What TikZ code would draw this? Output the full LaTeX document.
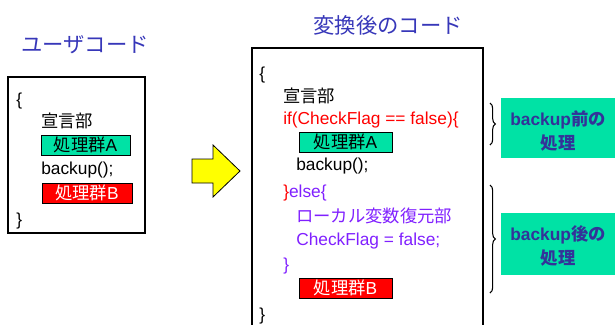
\documentclass[tikz,border=0pt]{standalone}
\usepackage{fontspec}
\setmainfont{Liberation Sans}
\newfontfamily\jp{Noto Sans CJK JP}
\usetikzlibrary{decorations.pathreplacing}
\definecolor{ttl}{RGB}{55,55,185}
\definecolor{grn}{RGB}{0,226,165}
\definecolor{lbl}{RGB}{51,51,153}
\definecolor{prp}{RGB}{128,32,255}
\definecolor{ylw}{RGB}{255,255,0}
\tikzset{
  title/.style={inner sep=0, text=ttl, font=\fontsize{16}{18}\selectfont\jp},
  code/.style={anchor=west, inner sep=0, yshift=-2.5pt, text height=0.75em, text depth=0.2em, font=\fontsize{13}{15}\selectfont},
  frame/.style={draw=black, line width=1pt},
  grpA/.style={draw=black, line width=0.6pt, fill=grn, minimum height=15pt, inner sep=0, font=\fontsize{13}{15}\selectfont},
  grpB/.style={draw=black, line width=0.6pt, fill=red, text=white, minimum height=15pt, inner sep=0, font=\fontsize{13}{15}\selectfont},
  labelbox/.style={fill=grn, inner sep=0, minimum width=85.5pt},
  labeltext/.style={text=lbl, align=center, inner sep=0, font=\fontsize{13}{18}\selectfont\bfseries},
  brc/.style={decorate, decoration={brace, amplitude=4pt}, line width=0.8pt},
}
\begin{document}
\begin{tikzpicture}[x=0.75pt,y=-0.75pt]
\useasboundingbox (0,0) rectangle (615,325);
% titles
\node[title] (t1) at (85,45) {ユーザコード};
\node[title] (t2) at (388,25) {変換後のコード};
% left box
\node[frame, minimum width=102.75pt, minimum height=117pt, inner sep=0] (lbox) at (76.5,155) {};
\node[code] (l1) at (16,98) {\{};
\node[code] (l2) at (41,120) {\jp 宣言部};
\node[grpA, minimum width=66.75pt] (lA) at (85.5,145) {{\jp 処理群}A};
\node[code] (l3) at (41,167) {backup();};
\node[grpB, minimum width=67.5pt] (lB) at (87,193) {{\jp 処理群}B};
\node[code] (l4) at (16,218) {\}};
% arrow
\draw[fill=ylw, draw=black, line width=0.6pt] (192,159) -- (213,159) -- (213,145) -- (240,171) -- (213,197) -- (213,183) -- (192,183) -- cycle;
% right box
\coordinate (rb1) at (252,327);
\coordinate (rb2) at (252,48);
\coordinate (rb3) at (483,48);
\coordinate (rb4) at (483,327);
\draw[frame] (rb1) -- (rb2) -- (rb3) -- (rb4);
\node[code] (r1) at (259,72) {\{};
\node[code] (r2) at (283,95) {\jp 宣言部};
\node[code, text=red] (r3) at (283,117) {if(CheckFlag == false)\{};
\node[grpA, minimum width=69.75pt] (rA) at (345.5,142) {{\jp 処理群}A};
\node[code] (r4) at (296,163) {backup();};
\node[code] (r5) at (283,190) {\textcolor{red}{\}}\textcolor{prp}{else\{}};
\node[code, text=prp] (r6) at (296,215) {\jp ローカル変数復元部};
\node[code, text=prp] (r7) at (296,238) {CheckFlag = false;};
\node[code, text=prp] (r8) at (283,263) {\}};
\node[grpB, minimum width=69.75pt] (rB) at (345.5,288) {{\jp 処理群}B};
\node[code] (r9) at (259,313) {\}};
% braces
\coordinate (b1t) at (490,103);
\coordinate (b1b) at (490,145);
\coordinate (b2t) at (490,185);
\coordinate (b2b) at (490,293);
\draw[brc] (b1t) -- (b1b);
\draw[brc] (b2t) -- (b2b);
% labels
\node[labelbox, minimum height=45pt] (L1) at (558,128) {};
\node[labeltext] (L1t) at (558,131) {backup{\jp 前の}\\{\jp 処理}};
\node[labelbox, minimum height=46.5pt] (L2) at (558,244) {};
\node[labeltext] (L2t) at (558,245.5) {backup{\jp 後の}\\{\jp 処理}};
\end{tikzpicture}
\end{document}
